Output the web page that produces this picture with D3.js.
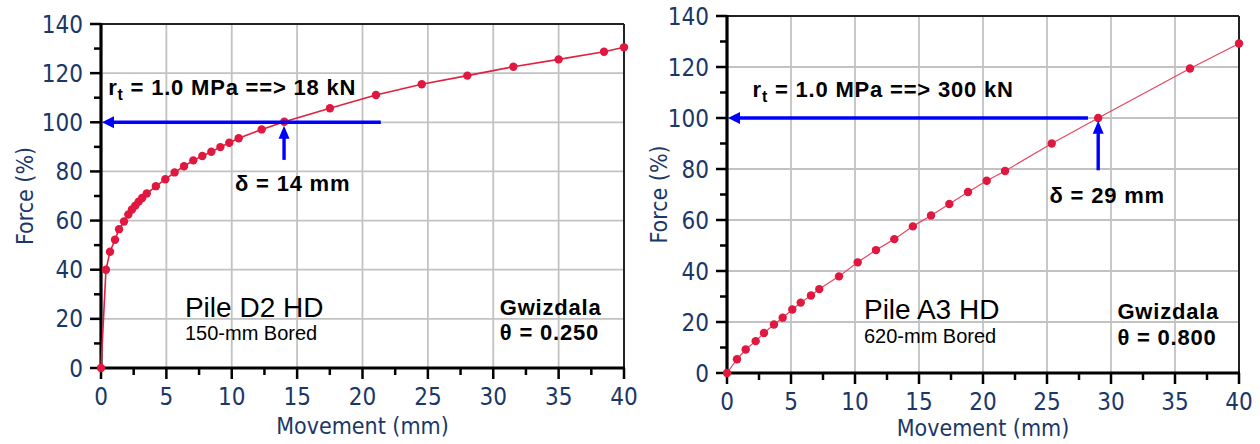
<!DOCTYPE html>
<html>
<head>
<meta charset="utf-8">
<script src="https://cdn.jsdelivr.net/npm/d3@7"></script>
<style>
  html, body { margin: 0; padding: 0; background: #fff; }
  svg { display: block; }
  .tick-label, .axis-title { font-family: "DejaVu Sans Condensed", "DejaVu Sans", sans-serif; font-stretch: condensed; fill: #1b3767; }
  .ann { font-family: "Liberation Sans", Arial, sans-serif; fill: #000; }
</style>
</head>
<body>
<script>
// ---------- data ----------
const xTicks = [0, 5, 10, 15, 20, 25, 30, 35, 40];
const yTicks = [0, 20, 40, 60, 80, 100, 120, 140];
const xTitle = "Movement (mm)";
const yTitle = "Force (%)";

// Pile D2 HD
const d2Movement = [0, 0.38, 0.69, 1.07, 1.38, 1.76, 2.09, 2.37, 2.63, 2.88, 3.15, 3.5, 4.2, 4.92, 5.63, 6.35, 7.06, 7.75, 8.44, 9.13, 9.81, 10.53, 12.29, 14.02, 17.51, 21.03, 24.53, 28.02, 31.54, 35.0, 38.47, 40.0];
const d2Force = [0, 40, 47.3, 52.2, 56.5, 59.6, 62.5, 64.5, 66.1, 67.7, 69.2, 71.0, 74.0, 76.8, 79.6, 82.1, 84.5, 86.3, 88.0, 89.9, 91.7, 93.5, 97.1, 100.2, 105.7, 111.1, 115.5, 119.0, 122.6, 125.6, 128.7, 130.5];

// Pile A3 HD
const a3Movement = [0, 0.78, 1.46, 2.24, 2.89, 3.67, 4.35, 5.1, 5.76, 6.56, 7.21, 8.75, 10.21, 11.64, 13.07, 14.52, 15.94, 17.37, 18.83, 20.29, 21.72, 25.37, 29.0, 36.17, 40.0];
const a3Force = [0, 5.4, 9.2, 12.5, 15.7, 19.0, 21.7, 24.9, 27.6, 30.4, 32.9, 37.9, 43.4, 48.2, 52.5, 57.5, 61.8, 66.3, 71.0, 75.4, 79.2, 90.0, 100, 119.4, 129.2];

const panelTitles = ["Pile D2 HD", "Pile A3 HD"];
const panelSubtitles = ["150-mm Bored", "620-mm Bored"];
const capacityTexts = ["18 kN", "300 kN"];
const deltaTexts = ["δ = 14 mm", "δ = 29 mm"];
const thetaTexts = ["θ = 0.250", "θ = 0.800"];
const methodName = "Gwizdala";
const deltaValues = [14, 29];

// ---------- layout ----------
const W = 1260, H = 444;
const svg = d3.select("body").append("svg").attr("width", W).attr("height", H);

const panels = [
  { box: { left: 101, right: 624, top: 24, bottom: 368 }, mv: d2Movement, fc: d2Force, i: 0,
    rtPos: [0.55, 111.1], hArrowFrom: 21.4, vArrow: [84.7, 98.6], deltaPos: [10.25, 72],
    titlePos: [6.42, 20.9], subPos: [6.42, 11.4], gwPos: [30.5, 21.6], thPos: [30.5, 11.4],
    yTitleX: 33, xTitleDy: 66, lineW: 1.6, lineColor: "#e0203f" },
  { box: { left: 727, right: 1239, top: 16, bottom: 373 }, mv: a3Movement, fc: a3Force, i: 1,
    rtPos: [2.0, 108.2], hArrowFrom: 28.2, vArrow: [79.5, 98.9], deltaPos: [25.2, 66.5],
    titlePos: [10.7, 21.3], subPos: [10.7, 11.8], gwPos: [30.5, 21.0], thPos: [30.5, 10.9],
    yTitleX: 667, xTitleDy: 63, lineW: 1.2, lineColor: "#e8465f" }
];

const markerColor = "#e0173f";
const blue = "#0000ff";

panels.forEach(p => {
  const b = p.box;
  const x = d3.scaleLinear().domain([0, 40]).range([b.left, b.right]);
  const y = d3.scaleLinear().domain([0, 140]).range([b.bottom, b.top]);
  const g = svg.append("g");

  // grid
  g.selectAll(".gx").data(xTicks.filter(t => t > 0 && t < 40)).enter().append("line")
    .attr("x1", d => x(d)).attr("x2", d => x(d)).attr("y1", b.top).attr("y2", b.bottom)
    .attr("stroke", "#c2c2c2").attr("stroke-width", 1.8);
  g.selectAll(".gy").data(yTicks.filter(t => t > 0 && t < 140)).enter().append("line")
    .attr("y1", d => y(d)).attr("y2", d => y(d)).attr("x1", b.left).attr("x2", b.right)
    .attr("stroke", "#c2c2c2").attr("stroke-width", 1.8);

  // frame top/right
  g.append("line").attr("x1", b.left).attr("x2", b.right).attr("y1", b.top).attr("y2", b.top)
    .attr("stroke", "#222").attr("stroke-width", 2);
  g.append("line").attr("x1", b.right).attr("x2", b.right).attr("y1", b.top).attr("y2", b.bottom)
    .attr("stroke", "#222").attr("stroke-width", 2);

  // minor ticks
  const xMinor = d3.range(2.5, 40, 5);
  const yMinor = d3.range(10, 140, 20);
  g.selectAll(".mx").data(xMinor).enter().append("line")
    .attr("x1", d => x(d)).attr("x2", d => x(d)).attr("y1", b.bottom).attr("y2", b.bottom + 7)
    .attr("stroke", "#000").attr("stroke-width", 2.5);
  g.selectAll(".my").data(yMinor).enter().append("line")
    .attr("y1", d => y(d)).attr("y2", d => y(d)).attr("x1", b.left).attr("x2", b.left - 7)
    .attr("stroke", "#000").attr("stroke-width", 2.5);
  // major ticks
  g.selectAll(".Mx").data(xTicks).enter().append("line")
    .attr("x1", d => x(d)).attr("x2", d => x(d)).attr("y1", b.bottom).attr("y2", b.bottom + 11)
    .attr("stroke", "#000").attr("stroke-width", 2.5);
  g.selectAll(".My").data(yTicks).enter().append("line")
    .attr("y1", d => y(d)).attr("y2", d => y(d)).attr("x1", b.left).attr("x2", b.left - 11)
    .attr("stroke", "#000").attr("stroke-width", 2.5);

  // axes lines (thick)
  g.append("line").attr("x1", b.left).attr("x2", b.left).attr("y1", b.top - 1).attr("y2", b.bottom + 1.5)
    .attr("stroke", "#000").attr("stroke-width", 3.2);
  g.append("line").attr("x1", b.left - 1.5).attr("x2", b.right + 1).attr("y1", b.bottom).attr("y2", b.bottom)
    .attr("stroke", "#000").attr("stroke-width", 3.2);

  // tick labels
  g.selectAll(".xl").data(xTicks).enter().append("text").attr("class", "tick-label")
    .attr("x", d => x(d)).attr("y", b.bottom + 37).attr("text-anchor", "middle")
    .style("font-size", "24px").text(d => d);
  g.selectAll(".yl").data(yTicks).enter().append("text").attr("class", "tick-label")
    .attr("x", b.left - 18).attr("y", d => y(d)).attr("dy", "0.36em").attr("text-anchor", "end")
    .style("font-size", "24px").text(d => d);

  // axis titles
  g.append("text").attr("class", "axis-title").attr("x", (b.left + b.right) / 2).attr("y", b.bottom + p.xTitleDy)
    .attr("text-anchor", "middle").style("font-size", "23px").text(xTitle);
  g.append("text").attr("class", "axis-title")
    .attr("transform", `translate(${p.yTitleX},${(b.top + b.bottom) / 2}) rotate(-90)`)
    .attr("text-anchor", "middle").style("font-size", "23px").text(yTitle);

  // data line & markers
  const pts = p.mv.map((m, k) => [m, p.fc[k]]);
  const line = d3.line().x(d => x(d[0])).y(d => y(d[1]));
  g.append("path").datum(pts).attr("d", line).attr("fill", "none")
    .attr("stroke", p.lineColor).attr("stroke-width", p.lineW);
  g.selectAll(".pt").data(pts).enter().append("circle")
    .attr("cx", d => x(d[0])).attr("cy", d => y(d[1])).attr("r", 4.2).attr("fill", markerColor);

  // horizontal arrow at 100%
  const hy = y(100);
  g.append("line").attr("x1", x(p.hArrowFrom)).attr("x2", b.left + 10).attr("y1", hy).attr("y2", hy)
    .attr("stroke", blue).attr("stroke-width", 3.4);
  g.append("path").attr("d", `M${b.left + 1},${hy} L${b.left + 13},${hy - 6} L${b.left + 13},${hy + 6} Z`).attr("fill", blue);

  // vertical arrow at delta
  const vx = x(deltaValues[p.i]);
  const vTip = y(p.vArrow[1]);
  g.append("line").attr("x1", vx).attr("x2", vx).attr("y1", y(p.vArrow[0])).attr("y2", vTip + 8)
    .attr("stroke", blue).attr("stroke-width", 3.4);
  g.append("path").attr("d", `M${vx},${vTip} L${vx - 5.5},${vTip + 13} L${vx + 5.5},${vTip + 13} Z`).attr("fill", blue);

  // annotations
  const boldStyle = sel => sel.style("font-size", "22px").style("font-weight", "bold").style("letter-spacing", "0.8px");
  const rt = g.append("text").attr("class", "ann").attr("x", x(p.rtPos[0])).attr("y", y(p.rtPos[1])).call(boldStyle);
  rt.append("tspan").text("r");
  rt.append("tspan").attr("dy", 5).style("font-size", "16px").text("t");
  rt.append("tspan").attr("dy", -5).text(" = 1.0 MPa ==> " + capacityTexts[p.i]);

  g.append("text").attr("class", "ann").attr("x", x(p.deltaPos[0])).attr("y", y(p.deltaPos[1]))
    .call(boldStyle).text(deltaTexts[p.i]);

  g.append("text").attr("class", "ann").attr("x", x(p.titlePos[0])).attr("y", y(p.titlePos[1]))
    .style("font-size", "28px").text(panelTitles[p.i]);
  g.append("text").attr("class", "ann").attr("x", x(p.subPos[0])).attr("y", y(p.subPos[1]))
    .style("font-size", "20px").text(panelSubtitles[p.i]);

  g.append("text").attr("class", "ann").attr("x", x(p.gwPos[0])).attr("y", y(p.gwPos[1]))
    .call(boldStyle).text(methodName);
  g.append("text").attr("class", "ann").attr("x", x(p.thPos[0])).attr("y", y(p.thPos[1]))
    .call(boldStyle).text(thetaTexts[p.i]);
});
</script>
</body>
</html>
